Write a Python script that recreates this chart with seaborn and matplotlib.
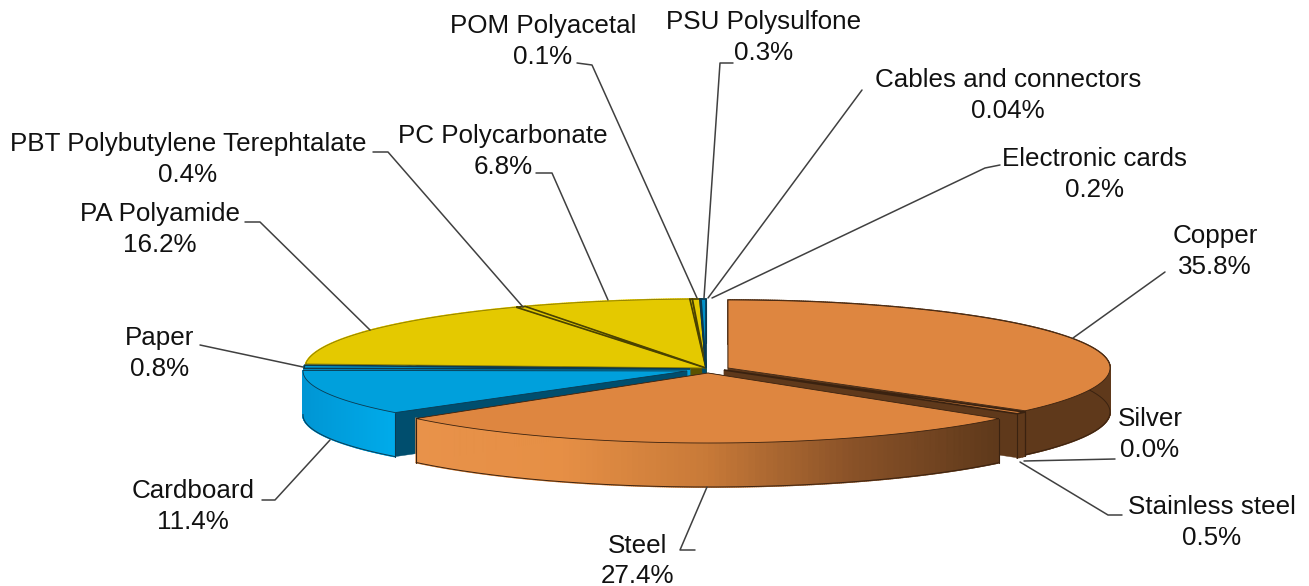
import numpy as np
import matplotlib
matplotlib.use("Agg")
import matplotlib.pyplot as plt
import seaborn as sns

# ---- data ----
categories = ["Copper", "Silver", "Stainless steel", "Steel", "Cardboard", "Paper",
              "PA Polyamide", "PBT Polybutylene Terephtalate", "PC Polycarbonate",
              "POM Polyacetal", "PSU Polysulfone", "Cables and connectors", "Electronic cards"]
values = [35.8, 0.0, 0.5, 27.4, 11.4, 0.8, 16.2, 0.4, 6.8, 0.1, 0.3, 0.04, 0.2]
value_labels = ["35.8%", "0.0%", "0.5%", "27.4%", "11.4%", "0.8%", "16.2%", "0.4%", "6.8%",
                "0.1%", "0.3%", "0.04%", "0.2%"]

# ---- style / layout ----
ORANGE, BROWN = "#DE8640", "#5F391B"
BLUE, YELLOW = "#00A0DC", "#E4C900"
groups = {  # apex x, apex y, rx, ry
    "metal": (728, 368, 382, 68),
    "sliver": (724, 370, 387, 67),
    "steel": (708, 373, 384, 70),
    "board": (687, 371, 384, 64),
    "paper": (690, 369, 386, 64),
    "plastic": (706, 368, 401, 69),
}
rank = {"plastic": 0, "paper": 0.5, "board": 1, "metal": 2, "sliver": 2, "steel": 3}
style = {
    "Copper": ("metal", ORANGE, [BROWN, BROWN], BROWN, "#3a2210"),
    "Silver": ("sliver", ORANGE, [BROWN, BROWN], BROWN, "#3a2210"),
    "Stainless steel": ("sliver", ORANGE, [BROWN, BROWN], BROWN, "#3a2210"),
    "Steel": ("steel", ORANGE, ["#5F391B", "#8A5228", "#C87A38", "#E68F45", "#E8924A"], BROWN, "#3a2210"),
    "Cardboard": ("board", BLUE, ["#00ABEA", "#0096D4"], "#004E6E", "#0b3a50"),
    "Paper": ("paper", BLUE, [BLUE, BLUE], BLUE, "#0b3a50"),
    "PA Polyamide": ("plastic", YELLOW, [YELLOW, YELLOW], "#5c5200", "#8a7a00"),
    "PBT Polybutylene Terephtalate": ("plastic", YELLOW, [YELLOW, YELLOW], "#5c5200", "#4a4200"),
    "PC Polycarbonate": ("plastic", YELLOW, [YELLOW, YELLOW], "#5c5200", "#8a7a00"),
    "POM Polyacetal": ("plastic", YELLOW, [YELLOW, YELLOW], "#5c5200", "#4a4200"),
    "PSU Polysulfone": ("plastic", YELLOW, [YELLOW, YELLOW], "#5c5200", "#4a4200"),
    "Cables and connectors": ("plastic", "#0090C8", ["#0090C8", "#0090C8"], "#004E6E", "#0b3a50"),
    "Electronic cards": ("plastic", "#0090C8", ["#0090C8", "#0090C8"], "#004E6E", "#0b3a50"),
}
WALL = 44
label_pos = {
    "Copper": (1215, 236, 31), "Silver": (1150, 419, 31), "Stainless steel": (1212, 507, 31),
    "Steel": (638, 546, 30), "Cardboard": (193, 491, 31), "Paper": (160, 338, 31),
    "PA Polyamide": (160, 214, 31), "PBT Polybutylene Terephtalate": (188, 144, 31),
    "PC Polycarbonate": (503, 136, 31), "POM Polyacetal": (543, 26, 31),
    "PSU Polysulfone": (764, 22, 31), "Cables and connectors": (1008, 80, 31),
    "Electronic cards": (1095, 159, 31),
}
leaders = {
    "Copper": [(1165, 272), (1073, 338)],
    "Silver": [(1115, 459), (1024, 461)],
    "Stainless steel": [(1122, 515), (1108, 515), (1020, 462)],
    "Steel": [(695, 550), (680, 550), (707, 487)],
    "Cardboard": [(262, 500), (275, 500), (330, 440)],
    "Paper": [(200, 345), (303, 367)],
    "PA Polyamide": [(245, 222), (260, 222), (370, 330)],
    "PBT Polybutylene Terephtalate": [(373, 152), (388, 152), (523, 307)],
    "PC Polycarbonate": [(536, 173), (552, 173), (608, 300)],
    "POM Polyacetal": [(577, 63), (592, 65), (697, 298)],
    "PSU Polysulfone": [(733, 63), (720, 63), (704, 298)],
    "Cables and connectors": [(862, 90), (708, 298)],
    "Electronic cards": [(1000, 165), (985, 168), (712, 298)],
}
draw_order = ["PA Polyamide", "PBT Polybutylene Terephtalate", "PC Polycarbonate", "POM Polyacetal",
              "PSU Polysulfone", "Cables and connectors", "Electronic cards", "Paper", "Cardboard",
              "Copper", "Silver", "Stainless steel", "Steel"]

sns.set_theme(style="white")
plt.rcParams["font.family"] = ["Liberation Sans", "DejaVu Sans"]

fig = plt.figure(figsize=(13.09, 5.86), dpi=100, facecolor="white")
ax = fig.add_axes([0, 0, 1, 1])
ax.set_xlim(0, 1309)
ax.set_ylim(586, 0)
ax.axis("off")

shares = np.array(values) / np.sum(values) * 2 * np.pi
ends = np.cumsum(shares)
starts = ends - shares
spans = {c: (s, e) for c, s, e in zip(categories, starts, ends)}


def rim(group, theta):
    cx, cy, rx, ry = groups[group]
    return cx + rx * np.sin(theta), cy - ry * np.cos(theta)


def draw_piece(name):
    start, stop = spans[name]
    group, top, wall, face, edge = style[name]
    if stop - start <= 0:
        return
    cx, cy, rx, ry = groups[group]
    small = (stop - start) < np.radians(3)
    z_side = rank[group] * 3 + 1
    z_top = rank[group] * 3 + 2
    # cut faces
    for angle in (start, stop):
        x, y = rim(group, angle)
        ax.fill([cx, x, x, cx], [cy, y, y + WALL, cy + WALL], color=face, lw=0.3, zorder=z_side)
    # outer wall, with a left-to-right gradient
    thetas = np.linspace(start, stop, max(int(np.degrees(stop - start)) * 3, 2) + 1)
    xs, ys = rim(group, thetas)
    xmid = (xs[:-1] + xs[1:]) / 2
    span = max(xmid.max() - xmid.min(), 1)
    ramp = sns.blend_palette(wall, n_colors=101)
    for i in range(len(xmid)):
        c = ramp[int(100 * (xmid.max() - xmid[i]) / span)]
        ax.fill([xs[i], xs[i + 1], xs[i + 1], xs[i]],
                [ys[i], ys[i + 1], ys[i + 1] + WALL, ys[i] + WALL],
                color=c, lw=1.2, zorder=z_side + 0.5)
    if not small:
        ax.plot(xs, ys + WALL, color=edge, lw=0.7, zorder=z_side + 0.6)
    # vertical seams, except where the wall turns out of sight at the silhouette
    for angle, end_x, end_y in ((start, xs[0], ys[0]), (stop, xs[-1], ys[-1])):
        if abs(np.sin(angle)) < 0.98:
            ax.plot([end_x, end_x], [end_y, end_y + WALL], color=edge, lw=0.8, zorder=z_side + 0.6)
    # top surface
    ax.fill(np.r_[cx, xs], np.r_[cy, ys], facecolor=top,
            edgecolor=edge, lw=1.2 if small else 0.6, zorder=z_top + (0.5 if small else 0))


for name in draw_order:
    draw_piece(name)

for name, lab in zip(categories, value_labels):
    x, y, dy = label_pos[name]
    ax.text(x, y, name, ha="center", va="center", fontsize=18.7, color="#111111", zorder=60)
    ax.text(x, y + dy, lab, ha="center", va="center", fontsize=18.7, color="#111111", zorder=60)
    pts = np.array(leaders[name])
    ax.plot(pts[:, 0], pts[:, 1], color="#404040", lw=1.1, zorder=59)

fig.savefig("out.png", dpi=100, facecolor="white")
